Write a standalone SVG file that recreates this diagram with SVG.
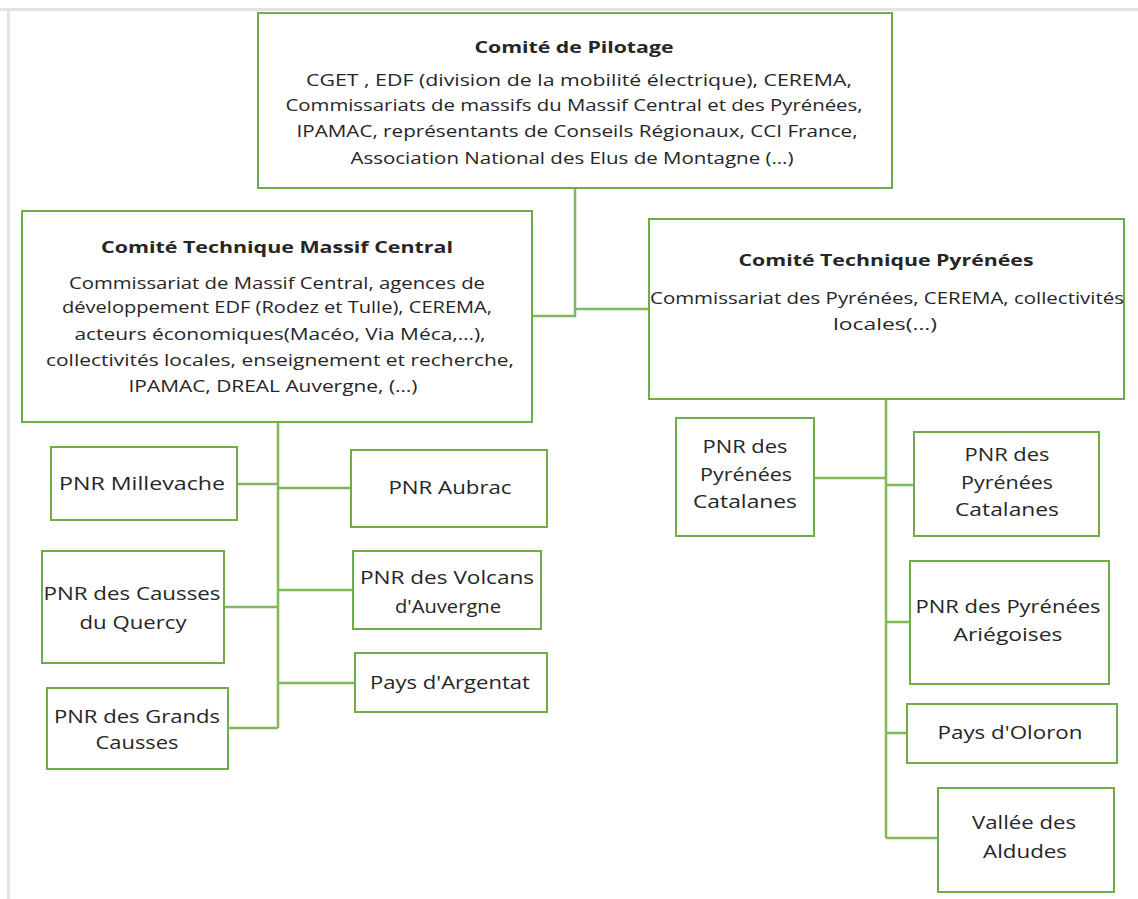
<svg xmlns="http://www.w3.org/2000/svg" width="1138" height="899" viewBox="0 0 1138 899">
<style>
.bg{fill:#ffffff}
.frame{stroke:#e3e3e3;stroke-width:3;fill:none}
.box{fill:#ffffff;stroke:#70ad47;stroke-width:2}
.con{stroke:#80b95c;stroke-width:2.5;fill:none}
text{font-family:"Open Sans","Noto Sans","Liberation Sans",sans-serif;fill:#262626;text-anchor:middle}
.t{font-size:16.5px;font-weight:bold}
.b{font-size:16px}
.c{font-size:17.5px}
</style>
<rect class="bg" x="0" y="0" width="1138" height="899"/>
<path class="frame" d="M0,9.5 H1138 M8.5,9.5 V899"/>
<g id="connectors">
<path class="con" d="M575,188 V316 H532 M575,188 V309 H649"/>
<path class="con" d="M278,422 V728 M237,484 H278 M278,488 H351 M224,607 H278 M278,590 H353 M278,683 H355 M228,728 H278"/>
<path class="con" d="M886,399 V838 M814,478 H886 M886,485 H914 M886,622 H910 M886,733 H907 M886,838 H938"/>
</g>
<g id="comite-pilotage">
<rect class="box" x="258" y="13" width="634" height="175"/>
<text class="t" x="574" y="53" textLength="199" lengthAdjust="spacingAndGlyphs">Comité de Pilotage</text>
<text class="b" x="579" y="86" textLength="546" lengthAdjust="spacingAndGlyphs">CGET , EDF (division de la mobilité électrique),  CEREMA,</text>
<text class="b" x="574" y="111" textLength="577" lengthAdjust="spacingAndGlyphs">Commissariats de massifs du Massif Central et des Pyrénées,</text>
<text class="b" x="577" y="137" textLength="561" lengthAdjust="spacingAndGlyphs">IPAMAC, représentants de Conseils Régionaux, CCI France,</text>
<text class="b" x="572" y="164" textLength="443" lengthAdjust="spacingAndGlyphs">Association National des Elus de Montagne (…)</text>
</g>
<g id="comite-massif-central">
<rect class="box" x="22" y="211" width="510" height="211"/>
<text class="t" x="277" y="253" textLength="352" lengthAdjust="spacingAndGlyphs">Comité Technique  Massif  Central</text>
<text class="b" x="277" y="289" textLength="416" lengthAdjust="spacingAndGlyphs">Commissariat de Massif Central, agences de</text>
<text class="b" x="277" y="313" textLength="430" lengthAdjust="spacingAndGlyphs">développement EDF (Rodez et Tulle), CEREMA,</text>
<text class="b" x="280" y="340" textLength="411" lengthAdjust="spacingAndGlyphs">acteurs économiques(Macéo, Via Méca,…),</text>
<text class="b" x="280" y="366" textLength="468" lengthAdjust="spacingAndGlyphs">collectivités locales, enseignement et recherche,</text>
<text class="b" x="273" y="392" textLength="289" lengthAdjust="spacingAndGlyphs">IPAMAC, DREAL Auvergne, (…)</text>
</g>
<g id="comite-pyrenees">
<rect class="box" x="649" y="219" width="475" height="180"/>
<text class="t" x="886" y="266" textLength="295" lengthAdjust="spacingAndGlyphs">Comité Technique  Pyrénées</text>
<text class="b" x="887" y="304" textLength="474" lengthAdjust="spacingAndGlyphs">Commissariat des Pyrénées, CEREMA, collectivités</text>
<text class="b" x="885" y="330" textLength="104" lengthAdjust="spacingAndGlyphs">locales(…)</text>
</g>
<g id="pnr-millevache">
<rect class="box" x="51" y="447" width="186" height="73"/>
<text class="c" x="142" y="490" textLength="166" lengthAdjust="spacingAndGlyphs">PNR Millevache</text>
</g>
<g id="pnr-aubrac">
<rect class="box" x="351" y="450" width="196" height="77"/>
<text class="c" x="450" y="494" textLength="123" lengthAdjust="spacingAndGlyphs">PNR Aubrac</text>
</g>
<g id="pnr-causses-quercy">
<rect class="box" x="42" y="551" width="182" height="112"/>
<text class="c" x="132" y="600" textLength="177" lengthAdjust="spacingAndGlyphs">PNR des Causses</text>
<text class="c" x="133" y="629" textLength="107" lengthAdjust="spacingAndGlyphs">du Quercy</text>
</g>
<g id="pnr-volcans">
<rect class="box" x="353" y="551" width="188" height="78"/>
<text class="c" x="447" y="584" textLength="174" lengthAdjust="spacingAndGlyphs">PNR des Volcans</text>
<text class="c" x="448" y="613" textLength="106" lengthAdjust="spacingAndGlyphs">d'Auvergne</text>
</g>
<g id="pays-argentat">
<rect class="box" x="355" y="653" width="192" height="59"/>
<text class="c" x="450" y="689" textLength="160" lengthAdjust="spacingAndGlyphs">Pays d'Argentat</text>
</g>
<g id="pnr-grands-causses">
<rect class="box" x="47" y="688" width="181" height="81"/>
<text class="c" x="137" y="723" textLength="166" lengthAdjust="spacingAndGlyphs">PNR des Grands</text>
<text class="c" x="137" y="749" textLength="83" lengthAdjust="spacingAndGlyphs">Causses</text>
</g>
<g id="pnr-catalanes-left">
<rect class="box" x="676" y="418" width="138" height="118"/>
<text class="c" x="745" y="453" textLength="85" lengthAdjust="spacingAndGlyphs">PNR des</text>
<text class="c" x="746" y="481" textLength="92" lengthAdjust="spacingAndGlyphs">Pyrénées</text>
<text class="c" x="745" y="508" textLength="104" lengthAdjust="spacingAndGlyphs">Catalanes</text>
</g>
<g id="pnr-catalanes-right">
<rect class="box" x="914" y="432" width="185" height="104"/>
<text class="c" x="1007" y="461" textLength="85" lengthAdjust="spacingAndGlyphs">PNR des</text>
<text class="c" x="1007" y="489" textLength="92" lengthAdjust="spacingAndGlyphs">Pyrénées</text>
<text class="c" x="1007" y="516" textLength="104" lengthAdjust="spacingAndGlyphs">Catalanes</text>
</g>
<g id="pnr-ariegoises">
<rect class="box" x="910" y="561" width="199" height="123"/>
<text class="c" x="1008" y="613" textLength="185" lengthAdjust="spacingAndGlyphs">PNR des Pyrénées</text>
<text class="c" x="1008" y="641" textLength="109" lengthAdjust="spacingAndGlyphs">Ariégoises</text>
</g>
<g id="pays-oloron">
<rect class="box" x="907" y="704" width="210" height="59"/>
<text class="c" x="1010" y="739" textLength="145" lengthAdjust="spacingAndGlyphs">Pays d'Oloron</text>
</g>
<g id="vallee-aldudes">
<rect class="box" x="938" y="788" width="176" height="104"/>
<text class="c" x="1024" y="829" textLength="104" lengthAdjust="spacingAndGlyphs">Vallée des</text>
<text class="c" x="1025" y="858" textLength="84" lengthAdjust="spacingAndGlyphs">Aldudes</text>
</g>
</svg>
